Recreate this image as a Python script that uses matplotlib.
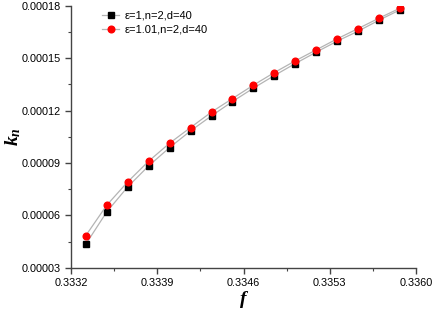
import matplotlib

matplotlib.use("Agg")

import matplotlib.pyplot as plt
from matplotlib.ticker import MultipleLocator, FormatStrFormatter

# data
f_vals = [0.33332, 0.33349, 0.33366, 0.33383, 0.33400, 0.33417, 0.33434, 0.33451,
          0.33468, 0.33485, 0.33502, 0.33519, 0.33536, 0.33553, 0.33570, 0.33587]
k_eps1 = [4.357, 6.206, 7.637, 8.840, 9.887, 10.843, 11.702, 12.521,
          13.288, 14.010, 14.697, 15.349, 15.979, 16.551, 17.181, 17.771]
k_eps101 = [4.849, 6.590, 7.924, 9.109, 10.139, 11.033, 11.920, 12.693,
            13.460, 14.181, 14.851, 15.481, 16.111, 16.700, 17.296, 17.868]
k_eps1 = [v * 1e-5 for v in k_eps1]
k_eps101 = [v * 1e-5 for v in k_eps101]

label_eps1 = "ε=1,n=2,d=40"
label_eps101 = "ε=1.01,n=2,d=40"

plt.rcParams["font.family"] = ["Liberation Sans", "DejaVu Sans"]
plt.rcParams["mathtext.fontset"] = "custom"
plt.rcParams["mathtext.it"] = "Liberation Serif:italic:bold"
plt.rcParams["mathtext.rm"] = "Liberation Serif:bold"

fig = plt.figure(figsize=(4.33, 3.22), dpi=100)
ax = fig.add_axes([0.164, 0.168, 0.797, 0.814])

ax.plot(f_vals, k_eps1, color="#b4b4b4", linewidth=0.9, marker="s",
        markersize=4, markerfacecolor="black", markeredgecolor="black",
        label=label_eps1)
ax.plot(f_vals, k_eps101, color="#b4b4b4", linewidth=0.9, marker="o",
        markersize=4.8, markerfacecolor="red", markeredgecolor="red",
        label=label_eps101)

ax.set_xlim(0.3332, 0.3360)
ax.set_ylim(0.00003, 0.00018)
ax.xaxis.set_major_locator(MultipleLocator(0.0007))
ax.xaxis.set_minor_locator(MultipleLocator(0.00035))
ax.yaxis.set_major_locator(MultipleLocator(0.00003))
ax.yaxis.set_minor_locator(MultipleLocator(0.000015))
ax.xaxis.set_major_formatter(FormatStrFormatter("%.4f"))
ax.yaxis.set_major_formatter(FormatStrFormatter("%.5f"))

for side in ("top", "right"):
    ax.spines[side].set_visible(False)
for side in ("left", "bottom"):
    ax.spines[side].set_color("#444444")
    ax.spines[side].set_linewidth(1.0)

ax.tick_params(which="both", direction="out", color="#444444", labelsize=7.8)
ax.tick_params(which="major", length=4, width=1.0)
ax.tick_params(which="minor", length=2.5, width=0.8)

ax.set_xlabel(r"$f$", fontsize=14)
ax.set_ylabel(r"$k_n$", fontsize=14)
ax.xaxis.set_label_coords(0.5, -0.08)
ax.yaxis.set_label_coords(-0.14, 0.5)

ax.legend(loc="upper left", bbox_to_anchor=(0.06, 1.02), frameon=False,
          fontsize=8, handlelength=1.6, handletextpad=0.5, labelspacing=0.4)

fig.savefig("out.png", dpi=100)
plt.close(fig)
